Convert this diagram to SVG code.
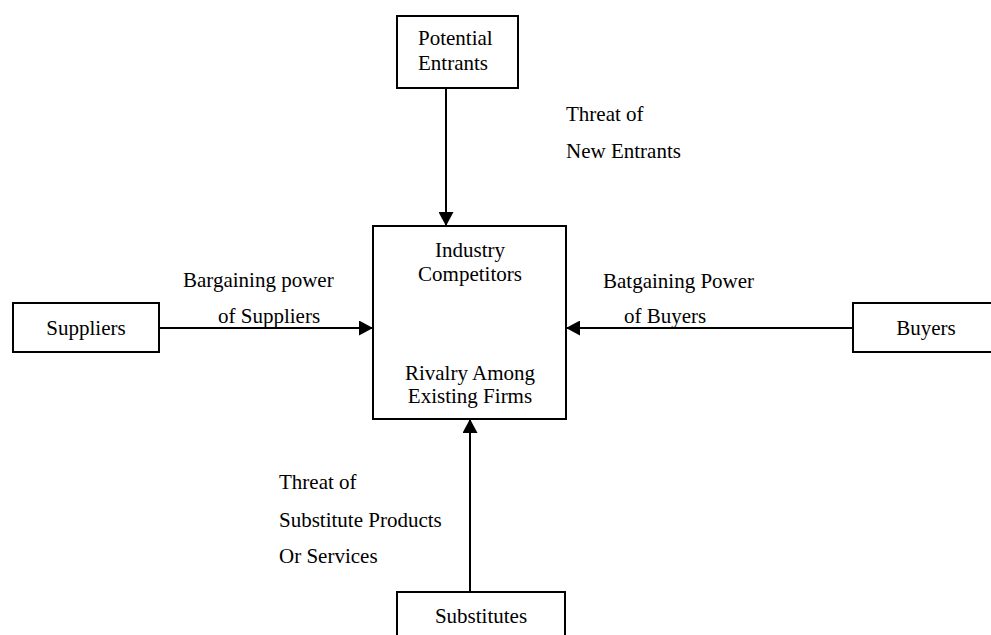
<svg xmlns="http://www.w3.org/2000/svg" width="991" height="635" viewBox="0 0 991 635">
<defs>
<style>
.box{fill:#fff;stroke:#000;stroke-width:2}
.t{font-family:"Liberation Serif","Times New Roman",serif;font-size:21px;fill:#000}
.c{text-anchor:middle}
.edge{stroke:#000;stroke-width:2;fill:none;marker-end:url(#ah)}
</style>
<marker id="ah" markerUnits="userSpaceOnUse" markerWidth="14" markerHeight="15" refX="14" refY="7.5" orient="auto" viewBox="0 0 14 15">
<path d="M0,0 L14,7.5 L0,15 z" fill="#000"/>
</marker>
</defs>
<rect width="991" height="635" fill="#fff"/>
<g id="connectors">
<line class="edge" x1="446" y1="88" x2="446" y2="226"/>
<line class="edge" x1="159" y1="328" x2="373" y2="328"/>
<line class="edge" x1="853" y1="328" x2="566" y2="328"/>
<line class="edge" x1="470" y1="592" x2="470" y2="419"/>
</g>
<g id="potential-entrants">
<rect class="box" x="397" y="16" width="121" height="72"/>
<text class="t" x="418" y="45">Potential</text>
<text class="t" x="418" y="70">Entrants</text>
</g>
<g id="industry-competitors">
<rect class="box" x="373" y="226" width="193" height="193"/>
<text class="t c" x="470" y="257">Industry</text>
<text class="t c" x="470" y="281">Competitors</text>
<text class="t c" x="470" y="380">Rivalry Among</text>
<text class="t c" x="470" y="403">Existing Firms</text>
</g>
<g id="suppliers">
<rect class="box" x="13" y="303" width="146" height="49"/>
<text class="t c" x="86" y="335">Suppliers</text>
</g>
<g id="buyers">
<rect class="box" x="853" y="303" width="146" height="49"/>
<text class="t c" x="926" y="335">Buyers</text>
</g>
<g id="substitutes">
<rect class="box" x="397" y="592" width="168" height="50"/>
<text class="t c" x="481" y="623">Substitutes</text>
</g>
<g id="labels">
<text class="t" x="566" y="121">Threat of</text>
<text class="t" x="566" y="158">New Entrants</text>
<text class="t" x="183" y="287">Bargaining power</text>
<text class="t" x="218" y="323">of Suppliers</text>
<text class="t" x="603" y="288">Batgaining Power</text>
<text class="t" x="624" y="323">of Buyers</text>
<text class="t" x="279" y="489">Threat of</text>
<text class="t" x="279" y="527">Substitute Products</text>
<text class="t" x="279" y="563">Or Services</text>
</g>
</svg>
